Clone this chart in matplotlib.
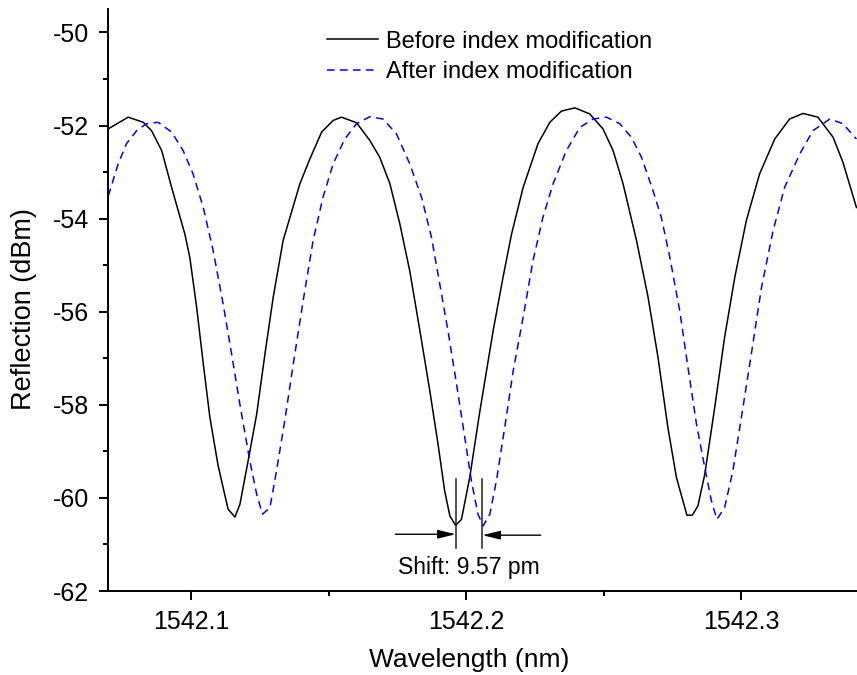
import matplotlib
matplotlib.use("Agg")
import matplotlib.pyplot as plt
from matplotlib.ticker import MultipleLocator

plt.rcParams["font.family"] = ["Liberation Sans", "DejaVu Sans"]
plt.rcParams["axes.unicode_minus"] = False

# spectrum before index modification (wavelength nm, reflection dBm)
before_wl = [
    1542.0700, 1542.0772, 1542.0827, 1542.0857, 1542.0894, 1542.0930, 1542.0978,
    1542.0996, 1542.1021, 1542.1045, 1542.1069, 1542.1099, 1542.1135, 1542.1160,
    1542.1178, 1542.1208, 1542.1239, 1542.1269, 1542.1299, 1542.1335, 1542.1396,
    1542.1432, 1542.1475, 1542.1517, 1542.1547, 1542.1602, 1542.1650, 1542.1686,
    1542.1723, 1542.1759, 1542.1795, 1542.1832, 1542.1868, 1542.1898, 1542.1922,
    1542.1941, 1542.1962, 1542.1983, 1542.2013, 1542.2050, 1542.2098, 1542.2134,
    1542.2165, 1542.2207, 1542.2261, 1542.2304, 1542.2346, 1542.2395, 1542.2449,
    1542.2497, 1542.2534, 1542.2570, 1542.2619, 1542.2661, 1542.2697, 1542.2733,
    1542.2764, 1542.2802, 1542.2822, 1542.2842, 1542.2867, 1542.2903, 1542.2939,
    1542.2976, 1542.3018, 1542.3066, 1542.3121, 1542.3175, 1542.3224, 1542.3278,
    1542.3333, 1542.3369, 1542.3418,
]
before_db = [
    -52.07, -51.82, -51.93, -52.11, -52.54, -53.33, -54.33,
    -54.83, -55.91, -57.12, -58.27, -59.31, -60.24, -60.41,
    -60.14, -59.20, -58.20, -56.91, -55.69, -54.47, -53.25,
    -52.72, -52.14, -51.89, -51.82, -51.94, -52.32, -52.68,
    -53.25, -54.11, -55.12, -56.41, -57.70, -58.85, -59.85,
    -60.39, -60.59, -60.46, -59.56, -58.13, -56.41, -55.26,
    -54.33, -53.33, -52.39, -51.93, -51.69, -51.62, -51.75,
    -52.07, -52.54, -53.25, -54.47, -55.69, -56.98, -58.49,
    -59.56, -60.37, -60.37, -60.17, -59.49, -58.06, -56.55,
    -55.26, -54.04, -53.04, -52.29, -51.86, -51.74, -51.82,
    -52.25, -52.79, -53.76,
]

# spectrum after index modification
after_wl = [
    1542.0700, 1542.0736, 1542.0766, 1542.0803, 1542.0839, 1542.0881, 1542.0930,
    1542.0972, 1542.1008, 1542.1045, 1542.1081, 1542.1117, 1542.1148, 1542.1178,
    1542.1214, 1542.1239, 1542.1260, 1542.1287, 1542.1311, 1542.1341, 1542.1372,
    1542.1408, 1542.1444, 1542.1480, 1542.1517, 1542.1559, 1542.1602, 1542.1650,
    1542.1698, 1542.1747, 1542.1795, 1542.1838, 1542.1874, 1542.1904, 1542.1934,
    1542.1965, 1542.1995, 1542.2019, 1542.2043, 1542.2062, 1542.2086, 1542.2110,
    1542.2140, 1542.2171, 1542.2207, 1542.2243, 1542.2279, 1542.2316, 1542.2364,
    1542.2413, 1542.2461, 1542.2510, 1542.2558, 1542.2600, 1542.2637, 1542.2679,
    1542.2709, 1542.2740, 1542.2776, 1542.2806, 1542.2837, 1542.2867, 1542.2891,
    1542.2911, 1542.2939, 1542.2969, 1542.3000, 1542.3036, 1542.3073, 1542.3115,
    1542.3157, 1542.3212, 1542.3260, 1542.3321, 1542.3369, 1542.3418,
]
after_db = [
    -53.51, -52.82, -52.39, -52.11, -51.96, -51.93, -52.14,
    -52.54, -53.04, -53.76, -54.69, -55.83, -56.91, -57.99,
    -59.20, -59.92, -60.35, -60.21, -59.42, -58.34, -57.12,
    -55.76, -54.47, -53.54, -52.82, -52.29, -51.96, -51.81,
    -51.86, -52.18, -52.82, -53.54, -54.40, -55.40, -56.41,
    -57.55, -58.70, -59.63, -60.35, -60.60, -60.35, -59.63,
    -58.49, -57.27, -56.12, -54.90, -53.97, -53.25, -52.54,
    -52.04, -51.86, -51.82, -51.96, -52.25, -52.68, -53.40,
    -53.97, -54.83, -55.98, -57.20, -58.42, -59.35, -60.06,
    -60.46, -60.21, -59.42, -58.27, -56.91, -55.48, -54.26,
    -53.33, -52.61, -52.11, -51.86, -51.96, -52.29,
]

# dip positions used for the shift marker
dip_before = 1542.1962
dip_after = 1542.2059
shift_label = "Shift: 9.57 pm"

fig = plt.figure(figsize=(8.57, 6.75), dpi=100)
ax = fig.add_axes([0.1264, 0.1244, 0.8736, 0.862])

ax.plot(before_wl, before_db, color="black", lw=1.1, label="Before index modification")
ax.plot(after_wl, after_db, color="blue", lw=1.1, dashes=(5, 3.5),
        label="After index modification")

ax.set_xlim(1542.070, 1542.342)
ax.set_ylim(-62, -49.5)
ax.xaxis.set_major_locator(MultipleLocator(0.1))
ax.xaxis.set_minor_locator(MultipleLocator(0.05))
ax.yaxis.set_major_locator(MultipleLocator(2))
ax.yaxis.set_minor_locator(MultipleLocator(1))
ax.xaxis.set_major_formatter(plt.FuncFormatter(lambda v, p: f"{v:.1f}"))

for s in ("top", "right"):
    ax.spines[s].set_visible(False)
for s in ("left", "bottom"):
    ax.spines[s].set_linewidth(1.4)
ax.tick_params(which="major", direction="out", length=6.7, width=1.4,
               labelsize=18, pad=7)
ax.tick_params(which="minor", direction="out", length=3.6, width=1.4)

ax.set_xlabel("Wavelength (nm)", fontsize=19)
ax.set_ylabel("Reflection (dBm)", fontsize=19.5)
ax.xaxis.set_label_coords(0.482, -0.098)
ax.yaxis.set_label_coords(-0.0952, 0.485)

# shift marker
for xv in (dip_before, dip_after):
    ax.plot([xv, xv], [-59.59, -61.08], color="#222222", lw=1.1)
arrow = dict(arrowstyle="-|>,head_length=0.9,head_width=0.22", color="black",
             lw=1.0, shrinkA=0, shrinkB=0, mutation_scale=12)
ax.annotate("", xy=(dip_before, -60.78), xytext=(1542.1743, -60.78), arrowprops=arrow)
ax.annotate("", xy=(dip_after, -60.80), xytext=(1542.2271, -60.80), arrowprops=arrow)
ax.text(1542.2009, -61.50, shift_label, ha="center", va="center", fontsize=16.6)

leg = ax.legend(loc="upper left", bbox_to_anchor=(0.292, 0.963), frameon=False,
                fontsize=17, handlelength=2.16, handletextpad=0.34,
                labelspacing=0.36, borderaxespad=0, borderpad=0)

fig.savefig("out.png", dpi=100)
